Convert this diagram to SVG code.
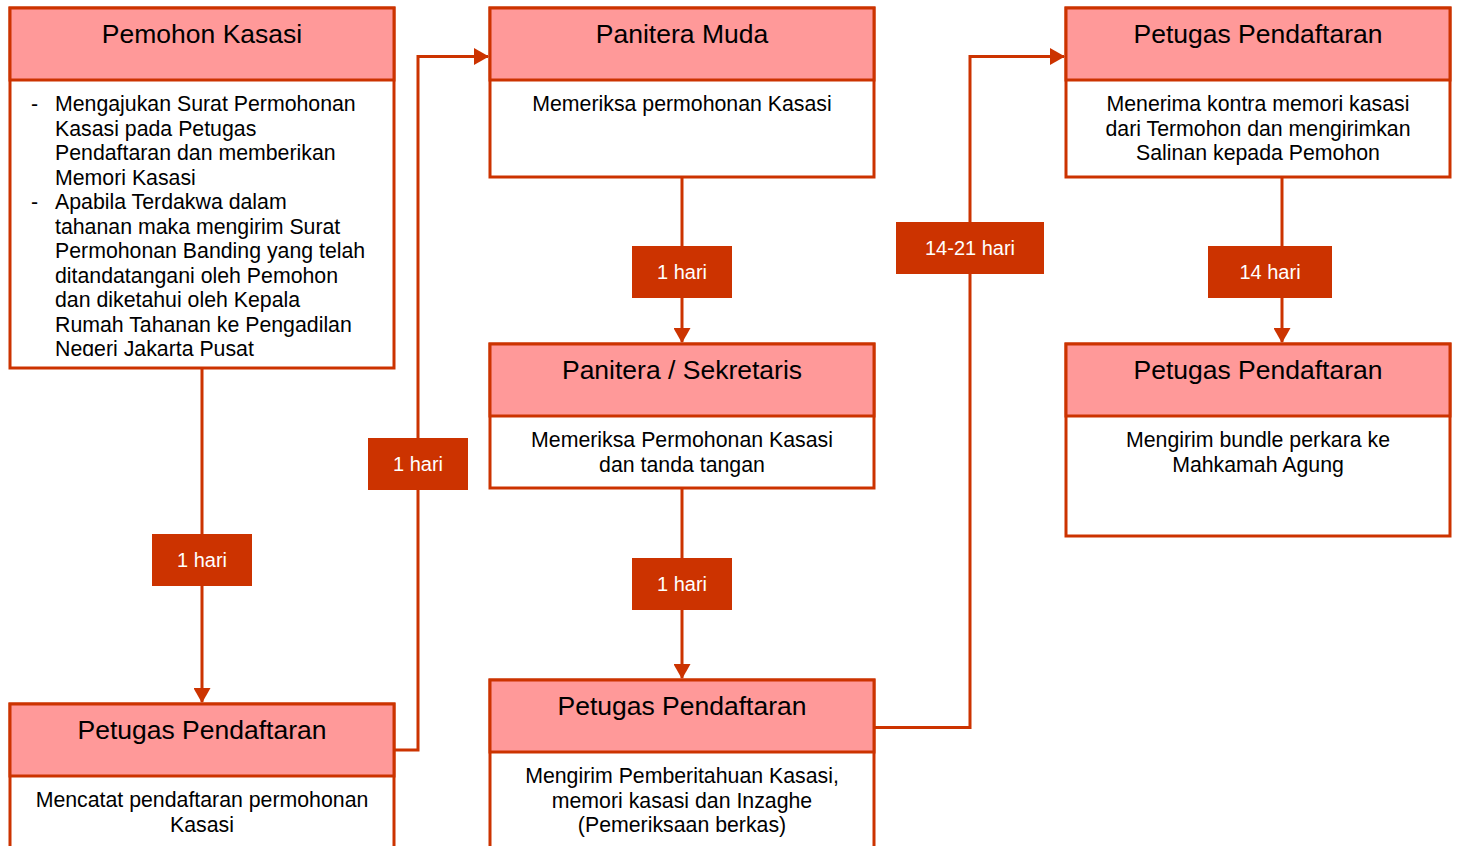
<svg xmlns="http://www.w3.org/2000/svg" width="1460" height="846" viewBox="0 0 1460 846">
<style>
.box{fill:#fff;stroke:#CC3300;stroke-width:3}
.hdr{fill:#FF9999;stroke:#CC3300;stroke-width:3}
.ht{font-family:"Liberation Sans",Arial,sans-serif;font-size:26.5px;fill:#000;text-anchor:middle}
.bt{font-family:"Liberation Sans",Arial,sans-serif;font-size:21.3px;fill:#000}
.c{text-anchor:middle}
.con{fill:none;stroke:#CC3300;stroke-width:3}
.lb{fill:#CC3300}
.lt{font-family:"Liberation Sans",Arial,sans-serif;font-size:20px;fill:#fff;text-anchor:middle}
</style>
<defs>
<marker id="ah" markerUnits="userSpaceOnUse" markerWidth="15" markerHeight="17" refX="14" refY="8.5" orient="auto">
<path d="M0,0 L15,8.5 L0,17 z" fill="#CC3300"/>
</marker>
<clipPath id="clip1"><rect x="12" y="82" width="380" height="274"/></clipPath>
</defs>
<rect width="1460" height="846" fill="#fff"/>
<g id="connectors">
<path class="con" d="M202,368 V702" marker-end="url(#ah)"/>
<rect class="lb" x="152" y="534" width="100" height="52"/>
<text class="lt" x="202" y="567">1 hari</text>
<path class="con" d="M394,750 H418 V56.5 H488" marker-end="url(#ah)"/>
<rect class="lb" x="368" y="438" width="100" height="52"/>
<text class="lt" x="418" y="471">1 hari</text>
<path class="con" d="M682,177 V342" marker-end="url(#ah)"/>
<rect class="lb" x="632" y="246" width="100" height="52"/>
<text class="lt" x="682" y="279">1 hari</text>
<path class="con" d="M682,488 V678" marker-end="url(#ah)"/>
<rect class="lb" x="632" y="558" width="100" height="52"/>
<text class="lt" x="682" y="591">1 hari</text>
<path class="con" d="M874,727.5 H970 V56.5 H1064" marker-end="url(#ah)"/>
<rect class="lb" x="896" y="222" width="148" height="52"/>
<text class="lt" x="970" y="255">14-21 hari</text>
<path class="con" d="M1282,177 V342" marker-end="url(#ah)"/>
<rect class="lb" x="1208" y="246" width="124" height="52"/>
<text class="lt" x="1270" y="279">14 hari</text>
</g>
<g id="n1">
<rect class="box" x="10" y="8" width="384" height="360"/>
<rect class="hdr" x="10" y="8" width="384" height="72"/>
<text class="ht" x="202" y="43">Pemohon Kasasi</text>
<g clip-path="url(#clip1)">
<text class="bt" x="31" y="111">-</text>
<text class="bt" x="55" y="111">Mengajukan Surat Permohonan</text>
<text class="bt" x="55" y="135.5">Kasasi pada Petugas</text>
<text class="bt" x="55" y="160">Pendaftaran dan memberikan</text>
<text class="bt" x="55" y="184.5">Memori Kasasi</text>
<text class="bt" x="31" y="209">-</text>
<text class="bt" x="55" y="209">Apabila Terdakwa dalam</text>
<text class="bt" x="55" y="233.5">tahanan maka mengirim Surat</text>
<text class="bt" x="55" y="258">Permohonan Banding yang telah</text>
<text class="bt" x="55" y="282.5">ditandatangani oleh Pemohon</text>
<text class="bt" x="55" y="307">dan diketahui oleh Kepala</text>
<text class="bt" x="55" y="331.5">Rumah Tahanan ke Pengadilan</text>
<text class="bt" x="55" y="356">Negeri Jakarta Pusat</text>
</g>
</g>
<g id="n2">
<rect class="box" x="490" y="8" width="384" height="169"/>
<rect class="hdr" x="490" y="8" width="384" height="72"/>
<text class="ht" x="682" y="43">Panitera Muda</text>
<text class="bt c" x="682" y="111">Memeriksa permohonan Kasasi</text>
</g>
<g id="n3">
<rect class="box" x="490" y="344" width="384" height="144"/>
<rect class="hdr" x="490" y="344" width="384" height="72"/>
<text class="ht" x="682" y="379">Panitera / Sekretaris</text>
<text class="bt c" x="682" y="447">Memeriksa Permohonan Kasasi</text>
<text class="bt c" x="682" y="471.5">dan tanda tangan</text>
</g>
<g id="n4">
<rect class="box" x="490" y="680" width="384" height="200"/>
<rect class="hdr" x="490" y="680" width="384" height="72"/>
<text class="ht" x="682" y="715">Petugas Pendaftaran</text>
<text class="bt c" x="682" y="783">Mengirim Pemberitahuan Kasasi,</text>
<text class="bt c" x="682" y="807.5">memori kasasi dan Inzaghe</text>
<text class="bt c" x="682" y="832">(Pemeriksaan berkas)</text>
</g>
<g id="n5">
<rect class="box" x="10" y="704" width="384" height="200"/>
<rect class="hdr" x="10" y="704" width="384" height="72"/>
<text class="ht" x="202" y="739">Petugas Pendaftaran</text>
<text class="bt c" x="202" y="807">Mencatat pendaftaran permohonan</text>
<text class="bt c" x="202" y="831.5">Kasasi</text>
</g>
<g id="n6">
<rect class="box" x="1066" y="8" width="384" height="169"/>
<rect class="hdr" x="1066" y="8" width="384" height="72"/>
<text class="ht" x="1258" y="43">Petugas Pendaftaran</text>
<text class="bt c" x="1258" y="111">Menerima kontra memori kasasi</text>
<text class="bt c" x="1258" y="135.5">dari Termohon dan mengirimkan</text>
<text class="bt c" x="1258" y="160">Salinan kepada Pemohon</text>
</g>
<g id="n7">
<rect class="box" x="1066" y="344" width="384" height="192"/>
<rect class="hdr" x="1066" y="344" width="384" height="72"/>
<text class="ht" x="1258" y="379">Petugas Pendaftaran</text>
<text class="bt c" x="1258" y="447">Mengirim bundle perkara ke</text>
<text class="bt c" x="1258" y="471.5">Mahkamah Agung</text>
</g>
</svg>
